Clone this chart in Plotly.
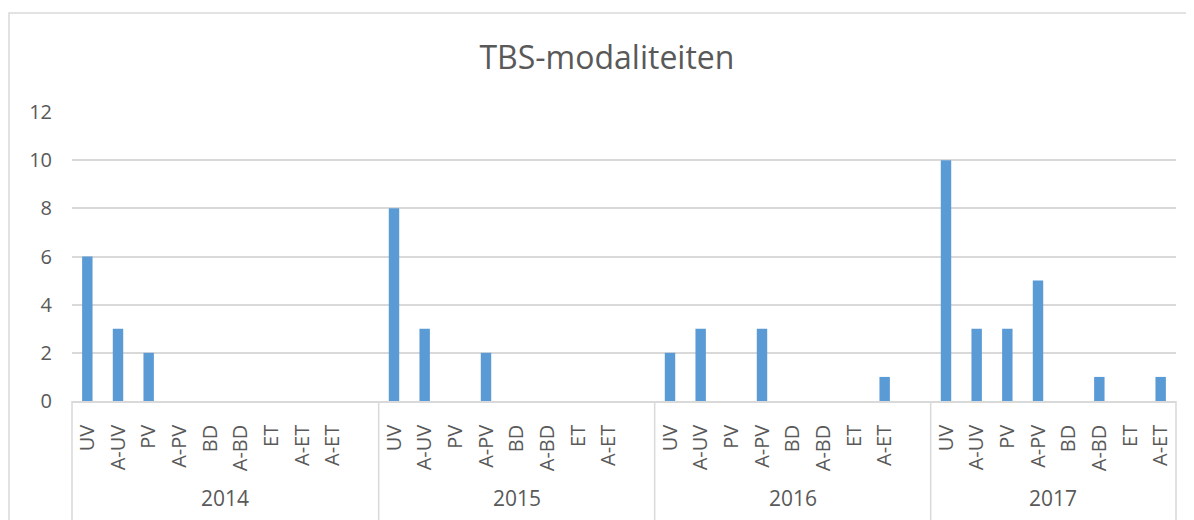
import plotly.graph_objects as go

years = ["2014", "2015", "2016", "2017"]
labels_2014 = ["UV", "A-UV", "PV", "A-PV", "BD", "A-BD", "ET", "A-ET", "A-ET", ""]
labels_2015 = ["UV", "A-UV", "PV", "A-PV", "BD", "A-BD", "ET", "A-ET", ""]
labels_2016 = ["UV", "A-UV", "PV", "A-PV", "BD", "A-BD", "ET", "A-ET", ""]
labels_2017 = ["UV", "A-UV", "PV", "A-PV", "BD", "A-BD", "ET", "A-ET"]
values_2014 = [6, 3, 2, 0, 0, 0, 0, 0, 0, 0]
values_2015 = [8, 3, 0, 2, 0, 0, 0, 0, 0]
values_2016 = [2, 3, 0, 3, 0, 0, 0, 1, 0]
values_2017 = [10, 3, 3, 5, 0, 1, 0, 1]
y_ticks = [0, 2, 4, 6, 8, 10, 12]

groups = [labels_2014, labels_2015, labels_2016, labels_2017]
vals = [values_2014, values_2015, values_2016, values_2017]

all_labels, all_vals = [], []
for g, v in zip(groups, vals):
    all_labels += g
    all_vals += v
n = len(all_labels)
xs = list(range(n))

GRID = "#d9d9d9"
TXT = "#595959"
FONT = "Open Sans"

fig = go.Figure(go.Bar(x=xs, y=all_vals, marker_color="#5b9bd5",
                       marker_line_width=0, hoverinfo="y"))

shapes = []
annotations = []
start = 0
for yr, g in zip(years, groups):
    shapes.append(dict(type="line", xref="paper", yref="paper",
                       x0=start / n, x1=start / n, y0=0, y1=-0.45,
                       line=dict(color=GRID, width=1.5)))
    annotations.append(dict(x=start + (len(g) - 1) / 2, y=-0.334, xref="x", yref="paper",
                            text=yr, showarrow=False, yanchor="middle",
                            font=dict(family=FONT, size=21, color=TXT)))
    start += len(g)
shapes.append(dict(type="line", xref="paper", yref="paper", x0=1, x1=1, y0=0, y1=-0.45,
                   line=dict(color=GRID, width=1.5)))
# outer chart border
shapes.append(dict(type="rect", xref="paper", yref="paper",
                   x0=(9 - 72) / 1104, x1=(1193 - 72) / 1104, y0=-0.6, y1=(401 - 13) / 289,
                   line=dict(color=GRID, width=1.5), fillcolor="rgba(0,0,0,0)"))

fig.update_layout(
    width=1186, height=512,
    margin=dict(l=64, r=18, t=104, b=119),
    paper_bgcolor="white", plot_bgcolor="white",
    bargap=0.66,
    showlegend=False,
    title=dict(text="TBS-modaliteiten", x=0.505, xanchor="center", y=0.902, yanchor="middle",
               font=dict(family=FONT, size=32, color=TXT)),
    shapes=shapes, annotations=annotations,
)
fig.update_xaxes(range=[-0.5, n - 0.5], tickmode="array", tickvals=xs, ticktext=all_labels,
                 tickangle=-90, showgrid=False, zeroline=False, showline=True,
                 linecolor=GRID, linewidth=1.5, ticks="", ticklabelstandoff=14,
                 tickfont=dict(family=FONT, size=20, color=TXT), fixedrange=True)
fig.update_yaxes(range=[0, 12], tickmode="array", tickvals=y_ticks, showgrid=True,
                 gridcolor=GRID, gridwidth=1.5, zeroline=False, showline=False, ticks="",
                 ticklabelstandoff=19,
                 tickfont=dict(family=FONT, size=20, color=TXT), fixedrange=True)

fig.write_html("out.html")
